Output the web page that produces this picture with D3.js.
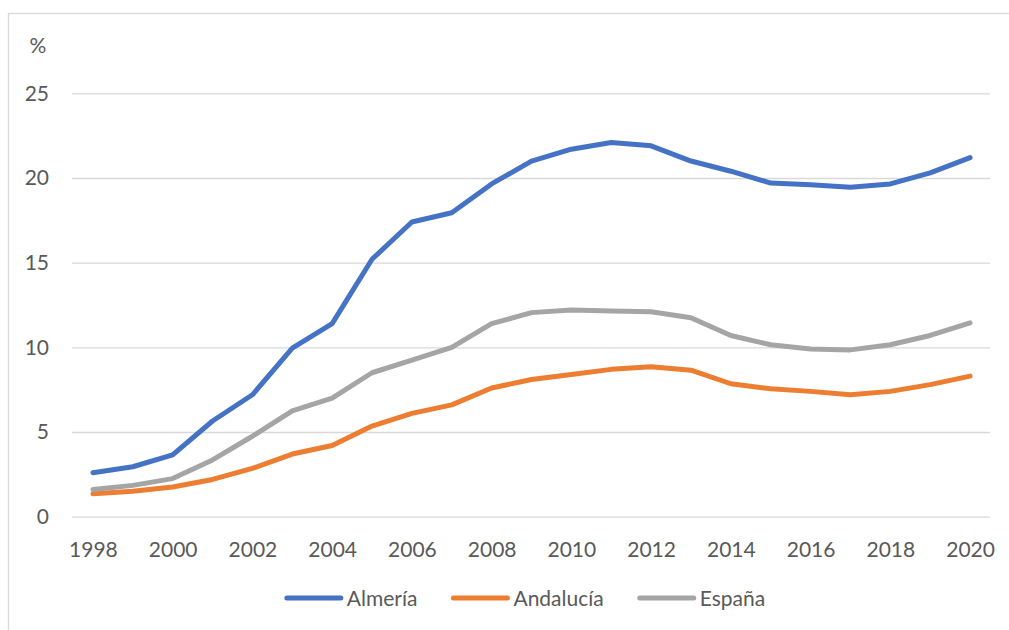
<!DOCTYPE html>
<html>
<head>
<meta charset="utf-8">
<script src="https://cdn.jsdelivr.net/npm/d3@7"></script>
<style>
  body { margin: 0; background: #fff; }
  svg text { font-family: Lato, "Open Sans", sans-serif; fill: #595959; }
</style>
</head>
<body>
<svg id="chart"></svg>
<script>
// years on the x axis
let years = d3.range(1998, 2021)
let yearLabels = d3.range(1998, 2021, 2)
let yTicks = [0, 5, 10, 15, 20, 25]

// series (%)
let seriesNames = ["Almería", "Andalucía", "España"]
let almeria = [2.6, 2.95, 3.65, 5.65, 7.2, 9.95, 11.4, 15.2, 17.4, 17.95, 19.65, 21.0, 21.7, 22.1, 21.9, 21.0, 20.4, 19.7, 19.6, 19.45, 19.65, 20.3, 21.2]
let andalucia = [1.35, 1.5, 1.75, 2.2, 2.85, 3.7, 4.2, 5.35, 6.1, 6.6, 7.6, 8.1, 8.4, 8.7, 8.85, 8.65, 7.85, 7.55, 7.4, 7.2, 7.4, 7.8, 8.3]
let espana = [1.6, 1.85, 2.25, 3.35, 4.75, 6.25, 7.0, 8.5, 9.25, 10.0, 11.4, 12.05, 12.2, 12.15, 12.1, 11.75, 10.7, 10.15, 9.9, 9.85, 10.15, 10.7, 11.45]
let colors = ["#4472C4", "#ED7D31", "#A5A5A5"]

let width = 1009
let height = 630
let plotLeft = 72
let plotRight = 990
let plotTop = 93.3
let plotBottom = 516.7

let svg = d3.select("#chart").attr("width", width).attr("height", height)

// chart frame
svg.append("rect")
   .attr("x", 8.5).attr("y", 13.5)
   .attr("width", 1020).attr("height", 640)
   .attr("fill", "none").attr("stroke", "#d9d9d9").attr("stroke-width", 1.3)

let xScale = d3.scalePoint().domain(years).range([plotLeft + 1, plotRight]).padding(0.5)
let yScale = d3.scaleLinear().domain([0, 25]).range([plotBottom, plotTop])

// y axis + gridlines
let yAxis = d3.axisLeft(yScale)
              .tickValues(yTicks)
              .tickSize(-(plotRight - plotLeft))
              .tickPadding(23)
svg.append("g")
   .attr("transform", "translate(" + plotLeft + ",0)")
   .call(yAxis)
   .call(g => g.select(".domain").remove())
   .call(g => g.selectAll(".tick line").attr("stroke", "#d9d9d9").attr("stroke-width", 1.3))
   .call(g => g.selectAll(".tick text").style("font-size", "21px").attr("fill", "#595959"))

// x axis
let xAxis = d3.axisBottom(xScale).tickValues(yearLabels).tickSize(0).tickPadding(25)
svg.append("g")
   .attr("transform", "translate(0," + plotBottom + ")")
   .call(xAxis)
   .call(g => g.select(".domain").remove())
   .call(g => g.selectAll(".tick text").style("font-size", "21px").attr("fill", "#595959"))

// unit label
svg.append("text").attr("x", 38).attr("y", 53).attr("text-anchor", "middle")
   .style("font-size", "21px").text("%")

// lines
let allSeries = [almeria, andalucia, espana]
let line = d3.line().x((d, i) => xScale(years[i])).y(d => yScale(d))
svg.selectAll(".series")
   .data(allSeries)
   .enter()
   .append("path")
   .attr("class", "series")
   .attr("d", d => line(d))
   .attr("fill", "none")
   .attr("stroke", (d, i) => colors[i])
   .attr("stroke-width", 5)
   .attr("stroke-linecap", "round")
   .attr("stroke-linejoin", "round")

// legend
let legend = svg.append("g")
let lx = 0
seriesNames.forEach((name, i) => {
  let item = legend.append("g").attr("transform", "translate(" + lx + ",0)")
  item.append("line").attr("x1", 2).attr("x2", 56).attr("y1", 0).attr("y2", 0)
      .attr("stroke", colors[i]).attr("stroke-width", 5).attr("stroke-linecap", "round")
  let t = item.append("text").attr("x", 62).attr("y", 7.5)
      .style("font-size", "21px").text(name)
  lx += 62 + t.node().getComputedTextLength() + 34
})
let legendWidth = lx - 34
legend.attr("transform", "translate(" + (525 - legendWidth / 2) + ",598)")
</script>
</body>
</html>
